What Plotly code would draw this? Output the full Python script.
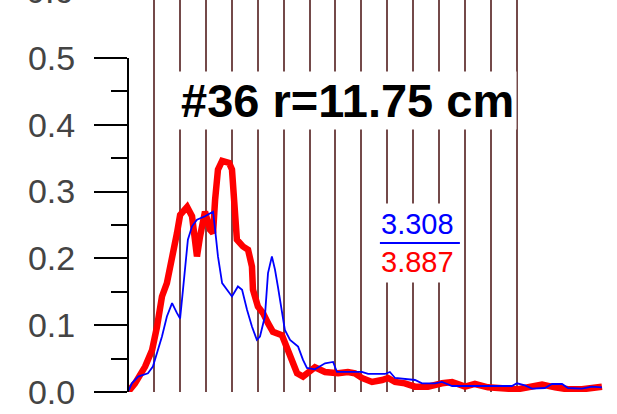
import plotly.graph_objects as go

# Radial profile #36 at r = 11.75 cm: two measured distributions
red_x = [0.00, 0.27, 0.66, 0.93, 1.12, 1.31, 1.50, 1.70, 1.89, 2.01, 2.28, 2.47, 2.58, 2.66,
         2.78, 2.97, 3.16, 3.28, 3.36, 3.47, 3.63, 3.90, 4.01, 4.13, 4.20, 4.43, 4.63, 4.78,
         4.82, 5.01, 5.21, 5.40, 5.59, 5.94, 6.13, 6.32, 6.52, 6.75, 7.02, 7.21, 7.60, 8.10,
         8.48, 8.75, 9.02, 9.41, 9.80, 10.03, 10.30, 10.68, 11.07, 11.57, 12.11, 12.50, 13.00,
         13.38, 13.88, 14.81, 15.00, 15.43, 15.97, 16.47, 16.97, 17.51, 18.01, 18.28]
red_y = [0.000, 0.013, 0.038, 0.063, 0.098, 0.143, 0.163, 0.198, 0.238, 0.265, 0.277, 0.263,
         0.213, 0.203, 0.233, 0.270, 0.243, 0.238, 0.288, 0.333, 0.346, 0.343, 0.333, 0.263,
         0.228, 0.218, 0.213, 0.188, 0.153, 0.128, 0.118, 0.103, 0.090, 0.085, 0.068, 0.048,
         0.028, 0.023, 0.030, 0.037, 0.030, 0.028, 0.030, 0.028, 0.021, 0.015, 0.018, 0.021,
         0.015, 0.013, 0.008, 0.008, 0.013, 0.015, 0.008, 0.012, 0.007, 0.006, 0.004, 0.007,
         0.011, 0.007, 0.004, 0.004, 0.008, 0.008]

blue_x = [0.00, 0.15, 0.39, 0.77, 0.96, 1.12, 1.31, 1.50, 1.70, 1.89, 2.01, 2.12, 2.20, 2.31,
          2.47, 2.66, 2.97, 3.28, 3.36, 3.47, 3.63, 3.82, 4.01, 4.24, 4.40, 4.59, 4.78, 4.97,
          5.09, 5.28, 5.40, 5.55, 5.67, 5.78, 5.94, 6.05, 6.25, 6.56, 6.75, 6.90, 7.21, 7.60,
          7.91, 8.06, 9.02, 9.26, 9.91, 10.10, 10.30, 11.07, 11.34, 11.84, 12.11, 12.50, 13.38,
          14.81, 15.00, 15.31, 15.58, 16.08, 16.35, 16.74, 16.97, 17.51, 17.89, 18.28]
blue_y = [0.000, 0.013, 0.023, 0.028, 0.038, 0.058, 0.083, 0.113, 0.133, 0.118, 0.110, 0.153,
          0.183, 0.228, 0.248, 0.258, 0.263, 0.270, 0.243, 0.203, 0.163, 0.153, 0.143, 0.158,
          0.153, 0.123, 0.098, 0.078, 0.083, 0.113, 0.178, 0.203, 0.183, 0.158, 0.123, 0.093,
          0.078, 0.068, 0.048, 0.036, 0.034, 0.043, 0.045, 0.030, 0.030, 0.027, 0.027, 0.030,
          0.021, 0.018, 0.013, 0.013, 0.015, 0.009, 0.009, 0.009, 0.013, 0.010, 0.005, 0.006,
          0.012, 0.012, 0.006, 0.005, 0.008, 0.007]

grid_x = list(range(1, 16))
y_major = [0.0, 0.1, 0.2, 0.3, 0.4, 0.5]
y_minor = [0.05, 0.15, 0.25, 0.35, 0.45]
y_labels = ["0.0", "0.1", "0.2", "0.3", "0.4", "0.5"]

title_text = "#36 r=11.75 cm"
blue_value = "3.308"
red_value = "3.887"

fig = go.Figure()
fig.add_trace(go.Scatter(x=red_x, y=red_y, mode="lines",
                         line=dict(color="#ff0000", width=6.5), cliponaxis=False))
fig.add_trace(go.Scatter(x=blue_x, y=blue_y, mode="lines",
                         line=dict(color="#0000ff", width=1.8), cliponaxis=False))

# y axis line only spans the labelled range
fig.add_shape(type="line", xref="paper", yref="y", x0=0, x1=0, y0=0, y1=0.5,
              line=dict(color="black", width=2))

fig.add_annotation(x=8.48, y=0.437, xref="x", yref="y", text="<b>" + title_text + "</b>",
                   showarrow=False, bgcolor="white", borderpad=2,
                   font=dict(family="Liberation Sans", size=47, color="black"))

fig.add_annotation(x=11.18, y=0.2515, xref="x", yref="y", text=blue_value,
                   showarrow=False, bgcolor="white", borderpad=4,
                   font=dict(family="Liberation Sans", size=29, color="#0000ff"))
fig.add_annotation(x=11.18, y=0.194, xref="x", yref="y", text=red_value,
                   showarrow=False, bgcolor="white", borderpad=4,
                   font=dict(family="Liberation Sans", size=29, color="#ff0000"))
# fraction bar between the two values
fig.add_annotation(x=12.8, y=0.223, xref="x", yref="y", ax=9.6, ay=0.223,
                   axref="x", ayref="y", text=" ", showarrow=True, arrowhead=0,
                   arrowwidth=2, arrowcolor="#0000ff", standoff=0, startstandoff=0)

# label of the next tick, cut by the top edge
fig.add_annotation(x=0, y=1.022, xref="paper", yref="paper", text="0.6",
                   showarrow=False, xanchor="right", yanchor="middle", xshift=-53,
                   font=dict(family="Liberation Sans", size=34, color="#444"))

fig.update_xaxes(range=[0, 18.86], tickvals=grid_x, showticklabels=False, ticks="",
                 showgrid=True, gridcolor="#744a4a", gridwidth=1.6,
                 showline=False, zeroline=False)
fig.update_yaxes(range=[0, 0.5868], tickvals=y_major, ticktext=y_labels,
                 ticks="outside", ticklen=33, tickwidth=2, tickcolor="black",
                 ticklabelstandoff=12,
                 tickfont=dict(family="Liberation Sans", size=34, color="#444"),
                 minor=dict(tickvals=y_minor, ticks="outside", ticklen=16,
                            tickwidth=2, tickcolor="black", showgrid=False),
                 showgrid=False, showline=False, zeroline=False)

fig.update_layout(width=617, height=414, showlegend=False,
                  margin=dict(l=128, r=0, t=0, b=22),
                  paper_bgcolor="white", plot_bgcolor="white")

fig.write_html("out.html")
